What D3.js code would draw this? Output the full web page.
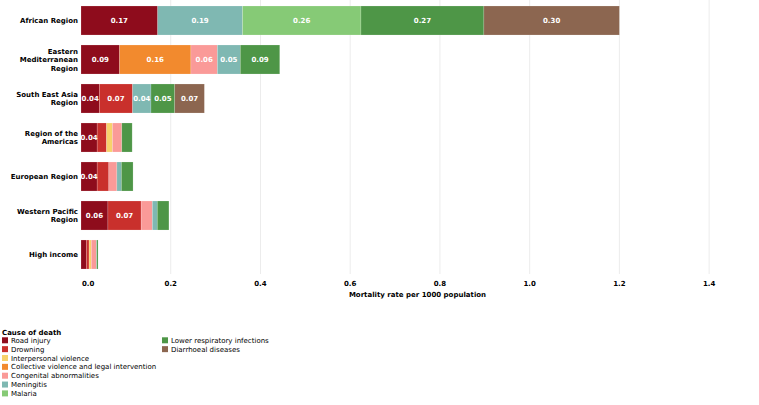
<!DOCTYPE html>
<html>
<head>
<meta charset="utf-8">
<script src="https://cdn.jsdelivr.net/npm/d3@7"></script>
<style>
  html, body { margin: 0; padding: 0; background: #fff; }
  svg { display: block; font-family: "DejaVu Sans", Verdana, sans-serif; }
</style>
</head>
<body>
<svg id="chart" width="759" height="405"></svg>
<script>
// ---- data ----
const categories = ["African Region", "Eastern Mediterranean Region", "South East Asia Region",
  "Region of the Americas", "European Region", "Western Pacific Region", "High income"];
const categoryLines = [["African Region"], ["Eastern", "Mediterranean", "Region"], ["South East Asia", "Region"],
  ["Region of the", "Americas"], ["European Region"], ["Western Pacific", "Region"], ["High income"]];
const causes = ["Road injury", "Drowning", "Interpersonal violence", "Collective violence and legal intervention",
  "Congenital abnormalities", "Meningitis", "Malaria", "Lower respiratory infections", "Diarrhoeal diseases"];
const causeColors = ["#8e0c1c", "#c9302c", "#f7d26b", "#f28a2e", "#fa9a98", "#7fb8b2", "#86ca76", "#4e9647", "#8c6650"];
// values per cause, in category order
const roadInjury       = [0.171, 0.086, 0.041, 0.036, 0.036, 0.060, 0.012];
const drowning         = [0.000, 0.000, 0.074, 0.021, 0.026, 0.074, 0.006];
const interpersonal    = [0.000, 0.000, 0.000, 0.013, 0.000, 0.000, 0.005];
const collective       = [0.000, 0.159, 0.000, 0.000, 0.000, 0.000, 0.000];
const congenital       = [0.000, 0.059, 0.000, 0.021, 0.018, 0.025, 0.011];
const meningitis       = [0.189, 0.051, 0.041, 0.000, 0.010, 0.011, 0.001];
const malaria          = [0.264, 0.000, 0.000, 0.000, 0.000, 0.000, 0.000];
const lowerRespiratory = [0.274, 0.088, 0.053, 0.023, 0.026, 0.026, 0.003];
const diarrhoeal       = [0.302, 0.000, 0.066, 0.000, 0.000, 0.000, 0.000];
const xTicks = [0, 0.2, 0.4, 0.6, 0.8, 1.0, 1.2, 1.4];
const xTitle = "Mortality rate per 1000 population";
const legendTitle = "Cause of death";

const seriesValues = [roadInjury, drowning, interpersonal, collective, congenital, meningitis, malaria, lowerRespiratory, diarrhoeal];
const rows = categories.map((c, i) => {
  const r = { category: c };
  causes.forEach((k, j) => r[k] = seriesValues[j][i]);
  return r;
});

// ---- layout ----
const svg = d3.select("#chart");
const x = d3.scaleLinear().domain([0, 1.5]).range([81, 754]);
const y = d3.scaleBand().domain(categories).range([1, 274]).paddingInner(0.256).paddingOuter(0.128);
const color = d3.scaleOrdinal().domain(causes).range(causeColors);

// gridlines
svg.append("g").selectAll("line").data(xTicks.slice(1)).join("line")
  .attr("x1", d => x(d)).attr("x2", d => x(d))
  .attr("y1", 0).attr("y2", 274)
  .attr("stroke", "#ececec").attr("stroke-width", 1);

// bars
const stacked = d3.stack().keys(causes)(rows);
const layers = svg.append("g").selectAll("g").data(stacked).join("g")
  .attr("fill", d => color(d.key));
layers.selectAll("rect").data(d => d.filter(s => s[1] - s[0] > 0)).join("rect")
  .attr("x", d => x(d[0]))
  .attr("y", d => y(d.data.category))
  .attr("width", d => x(d[1]) - x(d[0]))
  .attr("height", y.bandwidth())
  .attr("stroke", "#ffffff").attr("stroke-opacity", 0.35).attr("stroke-width", 0.5);

// value labels
const labelData = [];
stacked.forEach(layer => layer.forEach(s => {
  const v = s[1] - s[0];
  if (v >= 0.035) labelData.push({ v, x0: s[0], x1: s[1], cat: s.data.category });
}));
svg.append("g").selectAll("text").data(labelData).join("text")
  .attr("x", d => (x(d.x0) + x(d.x1)) / 2)
  .attr("y", d => y(d.cat) + y.bandwidth() / 2 + 2.6)
  .attr("text-anchor", "middle")
  .attr("font-size", 7).attr("font-weight", "bold").attr("fill", "#ffffff")
  .text(d => d.v.toFixed(2));

// y labels
const lineH = 8.6;
const yl = svg.append("g").selectAll("text").data(categories).join("text")
  .attr("text-anchor", "end")
  .attr("font-size", 7).attr("font-weight", "bold").attr("fill", "#000");
yl.each(function (c, i) {
  const lines = categoryLines[i];
  const cy = y(c) + y.bandwidth() / 2;
  const start = cy - (lines.length - 1) * lineH / 2 + 2.6;
  d3.select(this).selectAll("tspan").data(lines).join("tspan")
    .attr("x", 78).attr("y", (d, k) => start + k * lineH).text(d => d);
});

// x tick labels
svg.append("g").selectAll("text").data(xTicks).join("text")
  .attr("x", d => d === 0 ? x(d) + 1 : x(d))
  .attr("y", 285.5)
  .attr("text-anchor", d => d === 0 ? "start" : "middle")
  .attr("font-size", 7).attr("font-weight", "bold").attr("fill", "#000")
  .text(d => d3.format(".1f")(d));

svg.append("text")
  .attr("x", (x.range()[0] + x.range()[1]) / 2).attr("y", 297)
  .attr("text-anchor", "middle")
  .attr("font-size", 7).attr("font-weight", "bold").attr("fill", "#000")
  .text(xTitle);

// legend
const lg = svg.append("g");
lg.append("text").attr("x", 2).attr("y", 334.5)
  .attr("font-size", 7).attr("font-weight", "bold").attr("fill", "#000").text(legendTitle);
const perCol = 7, colX = [2, 162], rowH = 8.85, row0 = 340.3;
const items = lg.selectAll("g.item").data(causes).join("g").attr("class", "item")
  .attr("transform", (d, i) => `translate(${colX[Math.floor(i / perCol)]},${row0 + (i % perCol) * rowH})`);
items.append("rect").attr("x", 0).attr("y", -3).attr("width", 6).attr("height", 6)
  .attr("fill", d => color(d));
items.append("text").attr("x", 9).attr("y", 2.5)
  .attr("font-size", 7).attr("fill", "#000").text(d => d);
</script>
</body>
</html>
